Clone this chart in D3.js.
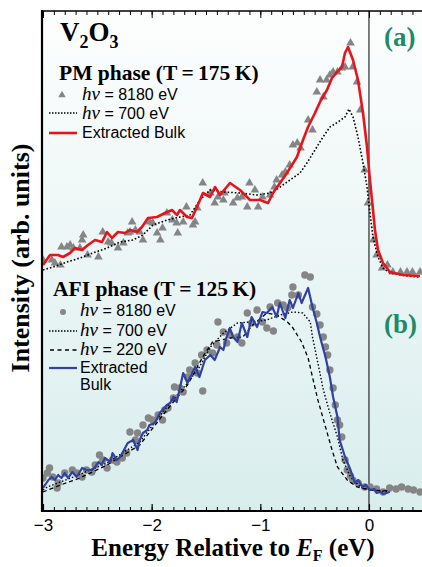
<!DOCTYPE html>
<html>
<head>
<meta charset="utf-8">
<script src="https://cdn.jsdelivr.net/npm/d3@7"></script>
<style>
  html, body { margin: 0; padding: 0; background: #fff; }
  svg { display: block; }
</style>
</head>
<body>
<div id="chart"></div>
<script>
// energies in eV, intensities in arbitrary units
const pmBulk = [[-3.00,246],[-2.935,256],[-2.862,256],[-2.816,254],[-2.751,258],[-2.705,263],[-2.641,261],[-2.586,266],[-2.521,271],[-2.457,269],[-2.411,279],[-2.365,273],[-2.310,279],[-2.245,278],[-2.199,281],[-2.135,279],[-2.089,284],[-2.034,293],[-1.951,294],[-1.877,298],[-1.813,301],[-1.767,296],[-1.739,301],[-1.675,294],[-1.629,293],[-1.583,304],[-1.528,318],[-1.463,314],[-1.417,324],[-1.371,316],[-1.279,328],[-1.187,321],[-1.095,311],[-1.003,311],[-0.929,308],[-0.883,318],[-0.819,328],[-0.755,338],[-0.663,354],[-0.607,371],[-0.561,384],[-0.497,398],[-0.451,409],[-0.387,421],[-0.340,433],[-0.294,439],[-0.248,444],[-0.221,458],[-0.193,464],[-0.147,451],[-0.101,431],[-0.055,398],[-0.018,364],[0.009,331],[0.037,301],[0.055,281],[0.083,261],[0.129,248],[0.193,239],[0.313,236],[0.469,235]];
const pm700 = [[-3.00,241],[-2.908,244],[-2.779,249],[-2.660,253],[-2.540,258],[-2.411,263],[-2.291,269],[-2.172,271],[-2.080,276],[-1.988,286],[-1.859,291],[-1.739,294],[-1.647,296],[-1.555,311],[-1.463,321],[-1.344,319],[-1.187,318],[-1.031,316],[-0.911,318],[-0.819,324],[-0.727,331],[-0.635,338],[-0.571,348],[-0.497,361],[-0.423,374],[-0.359,384],[-0.285,389],[-0.221,394],[-0.184,402],[-0.147,394],[-0.101,374],[-0.055,348],[-0.018,324],[0.009,298],[0.037,274],[0.083,254],[0.129,243],[0.193,238],[0.350,235],[0.469,234]];
const pm8180 = [[-3.00,251],[-2.92,251],[-2.89,248],[-2.84,246],[-2.83,264],[-2.78,264],[-2.75,266],[-2.72,263],[-2.66,263],[-2.64,271],[-2.63,276],[-2.59,256],[-2.49,254],[-2.45,279],[-2.40,269],[-2.37,268],[-2.31,263],[-2.26,268],[-2.22,278],[-2.20,279],[-2.18,289],[-2.15,281],[-2.11,279],[-2.08,271],[-2.02,289],[-1.99,288],[-1.95,278],[-1.92,271],[-1.90,283],[-1.86,298],[-1.81,291],[-1.77,288],[-1.76,278],[-1.71,289],[-1.68,304],[-1.62,286],[-1.60,289],[-1.58,303],[-1.53,328],[-1.46,318],[-1.42,308],[-1.39,314],[-1.34,311],[-1.33,318],[-1.25,308],[-1.21,313],[-1.17,314],[-1.12,304],[-1.10,328],[-1.05,321],[-1.02,304],[-0.98,314],[-0.91,316],[-0.87,324],[-0.85,331],[-0.80,336],[-0.77,339],[-0.73,346],[-0.70,366],[-0.66,368],[-0.63,363],[-0.56,391],[-0.52,381],[-0.48,419],[-0.45,431],[-0.42,414],[-0.39,431],[-0.36,436],[-0.33,439],[-0.29,439],[-0.25,443],[-0.22,444],[-0.17,468],[-0.15,444],[-0.11,429],[-0.08,401],[-0.04,341],[-0.01,308],[0.04,271],[0.07,256],[0.12,243],[0.17,246],[0.22,239],[0.29,239],[0.35,239],[0.40,239],[0.47,239]];

const afiBulk = [[-3.00,23],[-2.95,31],[-2.92,34],[-2.89,31],[-2.86,36],[-2.83,33],[-2.80,38],[-2.77,33],[-2.73,39],[-2.69,34],[-2.64,43],[-2.60,41],[-2.55,41],[-2.52,44],[-2.49,49],[-2.46,46],[-2.43,53],[-2.38,49],[-2.36,58],[-2.32,51],[-2.29,54],[-2.24,64],[-2.22,68],[-2.17,71],[-2.13,61],[-2.11,71],[-2.08,78],[-2.04,81],[-2.02,86],[-1.97,88],[-1.92,99],[-1.90,101],[-1.86,106],[-1.83,108],[-1.80,114],[-1.77,109],[-1.74,123],[-1.71,138],[-1.67,128],[-1.60,144],[-1.56,134],[-1.51,151],[-1.46,156],[-1.42,151],[-1.37,164],[-1.34,161],[-1.31,174],[-1.28,183],[-1.25,174],[-1.21,169],[-1.17,188],[-1.12,174],[-1.08,194],[-1.03,184],[-0.98,199],[-0.94,198],[-0.89,204],[-0.85,194],[-0.82,208],[-0.77,193],[-0.73,211],[-0.70,203],[-0.65,218],[-0.62,208],[-0.56,223],[-0.52,204],[-0.48,188],[-0.45,174],[-0.40,154],[-0.36,134],[-0.33,114],[-0.29,94],[-0.27,71],[-0.22,54],[-0.17,41],[-0.13,28],[-0.10,31],[-0.06,24],[-0.03,26],[0.01,21],[0.05,22],[0.07,18],[0.11,19],[0.13,17],[0.16,18],[0.19,19]];
const afi700 = [[-3.00,21],[-2.96,24],[-2.72,34],[-2.41,48],[-2.11,69],[-1.86,104],[-1.67,128],[-1.56,144],[-1.46,164],[-1.34,178],[-1.21,188],[-1.10,189],[-0.94,191],[-0.82,196],[-0.70,199],[-0.61,198],[-0.54,189],[-0.52,174],[-0.47,148],[-0.42,121],[-0.36,98],[-0.29,74],[-0.24,51],[-0.17,34],[-0.08,24],[0.01,21],[0.19,19]];
const afi220 = [[-3.00,19],[-2.84,26],[-2.66,33],[-2.41,46],[-2.11,66],[-1.86,101],[-1.67,126],[-1.53,154],[-1.44,169],[-1.28,173],[-1.16,174],[-1.07,186],[-0.94,198],[-0.85,196],[-0.75,189],[-0.70,183],[-0.62,169],[-0.56,153],[-0.52,134],[-0.47,111],[-0.40,84],[-0.34,61],[-0.29,44],[-0.20,31],[-0.11,24],[0.01,21],[0.19,20]];
const afi8180 = [[-3.00,33],[-2.96,38],[-2.94,43],[-2.91,34],[-2.87,23],[-2.86,28],[-2.80,38],[-2.73,41],[-2.69,38],[-2.64,34],[-2.60,41],[-2.55,39],[-2.52,46],[-2.48,56],[-2.45,51],[-2.41,43],[-2.36,51],[-2.32,49],[-2.27,53],[-2.23,58],[-2.20,79],[-2.15,71],[-2.13,78],[-2.08,86],[-2.03,93],[-1.99,91],[-1.94,96],[-1.90,91],[-1.88,101],[-1.85,103],[-1.80,113],[-1.79,124],[-1.74,123],[-1.71,119],[-1.67,134],[-1.65,141],[-1.60,148],[-1.58,138],[-1.54,156],[-1.53,120],[-1.49,161],[-1.44,158],[-1.40,166],[-1.39,189],[-1.34,179],[-1.31,168],[-1.28,176],[-1.21,174],[-1.17,168],[-1.12,198],[-1.08,188],[-1.03,201],[-0.98,189],[-0.94,183],[-0.91,204],[-0.88,180],[-0.84,208],[-0.79,206],[-0.75,203],[-0.71,216],[-0.70,224],[-0.65,216],[-0.59,236],[-0.54,234],[-0.52,204],[-0.48,197],[-0.45,186],[-0.42,174],[-0.40,164],[-0.38,156],[-0.36,141],[-0.33,123],[-0.31,106],[-0.29,91],[-0.27,86],[-0.25,74],[-0.22,51],[-0.20,41],[-0.17,35],[-0.15,31],[-0.10,28],[-0.04,24],[0.01,24],[0.07,22],[0.13,19],[0.19,23],[0.25,22],[0.30,24],[0.36,22],[0.41,21],[0.47,19]];

const majorTicks = [-3, -2, -1, 0];

const W = 422, H = 567;
const pLeft = 43, pRight = 422, pTop = 11, pBottom = 511;

const x = d3.scaleLinear().domain([-3, 0.488]).range([pLeft, pRight]);
const y = d3.scaleLinear().domain([0, 500]).range([pBottom, pTop]);

const svg = d3.select("#chart").append("svg")
  .attr("width", W).attr("height", H);

const defs = svg.append("defs");
const grad = defs.append("linearGradient").attr("id", "bg")
  .attr("x1", 0).attr("y1", 0).attr("x2", 0).attr("y2", 1);
grad.append("stop").attr("offset", "0%").attr("stop-color", "#fdfefe");
grad.append("stop").attr("offset", "100%").attr("stop-color", "#d9eded");
defs.append("clipPath").attr("id", "clip").append("rect")
  .attr("x", pLeft).attr("y", pTop).attr("width", pRight - pLeft).attr("height", pBottom - pTop);

svg.append("rect").attr("x", pLeft).attr("y", pTop)
  .attr("width", pRight - pLeft).attr("height", pBottom - pTop)
  .attr("fill", "url(#bg)");

// Fermi level
svg.append("line").attr("x1", x(0)).attr("x2", x(0)).attr("y1", pTop).attr("y2", pBottom)
  .attr("stroke", "#000").attr("stroke-width", 1);

const plot = svg.append("g").attr("clip-path", "url(#clip)");
const line = d3.line().x(d => x(d[0])).y(d => y(d[1]));

const grey = "#858585";

// PM panel
plot.selectAll(".tri").data(pm8180).enter().append("path")
  .attr("transform", d => `translate(${x(d[0])},${y(d[1])})`)
  .attr("d", d3.symbol(d3.symbolTriangle, 32))
  .attr("fill", grey);
plot.append("path").datum(pm700).attr("d", line)
  .attr("fill", "none").attr("stroke", "#000").attr("stroke-width", 1.6).attr("stroke-dasharray", "1.6,2");
plot.append("path").datum(pmBulk).attr("d", line)
  .attr("fill", "none").attr("stroke", "#e8141c").attr("stroke-width", 2.6).attr("stroke-linejoin", "round");

// AFI panel
plot.selectAll(".dot").data(afi8180).enter().append("circle")
  .attr("cx", d => x(d[0])).attr("cy", d => y(d[1])).attr("r", 3.7)
  .attr("fill", grey);
plot.append("path").datum(afi700).attr("d", line)
  .attr("fill", "none").attr("stroke", "#000").attr("stroke-width", 1.4).attr("stroke-dasharray", "1.5,2");
plot.append("path").datum(afi220).attr("d", line)
  .attr("fill", "none").attr("stroke", "#000").attr("stroke-width", 1.3).attr("stroke-dasharray", "4,3");
plot.append("path").datum(afiBulk).attr("d", line)
  .attr("fill", "none").attr("stroke", "#3041a0").attr("stroke-width", 2.2).attr("stroke-linejoin", "round");

// axes
const minor = d3.range(-30, 5).map(i => i / 10);
svg.append("g").attr("transform", `translate(0,${pBottom})`)
  .call(d3.axisBottom(x).tickValues(minor).tickSize(-4).tickFormat(""))
  .call(g => g.select(".domain").remove());
svg.append("g").attr("transform", `translate(0,${pTop})`)
  .call(d3.axisTop(x).tickValues(minor).tickSize(-4).tickFormat(""))
  .call(g => g.select(".domain").remove());
svg.append("g").attr("transform", `translate(0,${pTop})`)
  .call(d3.axisTop(x).tickValues(majorTicks).tickSize(-7).tickFormat(""))
  .call(g => g.select(".domain").remove());
const xAxis = svg.append("g").attr("transform", `translate(0,${pBottom})`)
  .call(d3.axisBottom(x).tickValues(majorTicks).tickSize(-7).tickPadding(8).tickFormat(d3.format("d")));
xAxis.select(".domain").remove();
xAxis.selectAll("line").attr("stroke-width", 1.2);
xAxis.selectAll("text").attr("font-family", "Liberation Sans, Arial, sans-serif")
  .attr("font-size", 17).attr("fill", "#000");

svg.append("line").attr("x1", pLeft).attr("x2", pRight).attr("y1", pTop).attr("y2", pTop)
  .attr("stroke", "#000").attr("stroke-width", 1.5);
svg.append("line").attr("x1", pLeft - 1).attr("x2", pRight).attr("y1", pBottom).attr("y2", pBottom)
  .attr("stroke", "#000").attr("stroke-width", 2.2);
svg.append("line").attr("x1", pLeft - 1).attr("x2", pLeft - 1).attr("y1", pTop - 1).attr("y2", pBottom + 1)
  .attr("stroke", "#000").attr("stroke-width", 2.2);

// titles
const serif = "Liberation Serif, Times New Roman, serif";
const sans = "Liberation Sans, Arial, sans-serif";

const xt = svg.append("text").attr("x", 233).attr("y", 556).attr("text-anchor", "middle")
  .attr("font-family", serif).attr("font-weight", "bold").attr("font-size", 25);
xt.append("tspan").text("Energy Relative to ");
xt.append("tspan").attr("font-style", "italic").text("E");
xt.append("tspan").attr("font-size", 16).attr("dy", 5).text("F");
xt.append("tspan").attr("dy", -5).text(" (eV)");

svg.append("text").attr("transform", "translate(29,258) rotate(-90)")
  .attr("text-anchor", "middle").attr("font-family", serif).attr("font-weight", "bold")
  .attr("font-size", 26).text("Intensity (arb. units)");

const vt = svg.append("text").attr("x", 60).attr("y", 41)
  .attr("font-family", serif).attr("font-weight", "bold").attr("font-size", 27);
vt.append("tspan").text("V");
vt.append("tspan").attr("font-size", 18).attr("dy", 7).text("2");
vt.append("tspan").attr("dy", -7).text("O");
vt.append("tspan").attr("font-size", 18).attr("dy", 7).text("3");

const green = "#1d8a6a";
svg.append("text").attr("x", 384).attr("y", 46).attr("font-family", serif)
  .attr("font-weight", "bold").attr("font-size", 27).attr("fill", green).text("(a)");
svg.append("text").attr("x", 384).attr("y", 333).attr("font-family", serif)
  .attr("font-weight", "bold").attr("font-size", 27).attr("fill", green).text("(b)");

svg.append("text").attr("x", 59).attr("y", 80).attr("font-family", serif)
  .attr("font-weight", "bold").attr("font-size", 21.5).text("PM phase (T\u2009=\u2009175\u2009K)");
svg.append("text").attr("x", 53).attr("y", 296).attr("font-family", serif)
  .attr("font-weight", "bold").attr("font-size", 21.5).text("AFI phase (T\u2009=\u2009125\u2009K)");

function hvLabel(px, py, rest) {
  const t = svg.append("text").attr("x", px).attr("y", py).attr("font-family", sans).attr("font-size", 16);
  t.append("tspan").attr("font-family", serif).attr("font-style", "italic").attr("font-size", 19).text("h\u03bd");
  t.append("tspan").text(" = " + rest);
}

// PM legend
svg.append("path").attr("transform", "translate(62,95)")
  .attr("d", d3.symbol(d3.symbolTriangle, 24)).attr("fill", grey);
hvLabel(82, 100, "8180 eV");
svg.append("line").attr("x1", 49).attr("x2", 77).attr("y1", 113).attr("y2", 113)
  .attr("stroke", "#000").attr("stroke-width", 1.3).attr("stroke-dasharray", "1.5,1.5");
hvLabel(82, 119, "700 eV");
svg.append("line").attr("x1", 49).attr("x2", 77).attr("y1", 133).attr("y2", 133)
  .attr("stroke", "#e8141c").attr("stroke-width", 2.6);
svg.append("text").attr("x", 82).attr("y", 138).attr("font-family", sans).attr("font-size", 16).text("Extracted Bulk");

// AFI legend
svg.append("circle").attr("cx", 63).attr("cy", 312).attr("r", 3).attr("fill", grey);
hvLabel(80, 316, "8180 eV");
svg.append("line").attr("x1", 49).attr("x2", 77).attr("y1", 331).attr("y2", 331)
  .attr("stroke", "#000").attr("stroke-width", 1.3).attr("stroke-dasharray", "1.5,1.5");
hvLabel(80, 336, "700 eV");
svg.append("line").attr("x1", 50).attr("x2", 77).attr("y1", 350).attr("y2", 350)
  .attr("stroke", "#000").attr("stroke-width", 1.4).attr("stroke-dasharray", "4,3.5");
hvLabel(80, 355, "220 eV");
svg.append("line").attr("x1", 49).attr("x2", 77).attr("y1", 368).attr("y2", 368)
  .attr("stroke", "#3041a0").attr("stroke-width", 2.2);
svg.append("text").attr("x", 80).attr("y", 373).attr("font-family", sans).attr("font-size", 16).text("Extracted");
svg.append("text").attr("x", 80).attr("y", 390).attr("font-family", sans).attr("font-size", 16).text("Bulk");
</script>
</body>
</html>
